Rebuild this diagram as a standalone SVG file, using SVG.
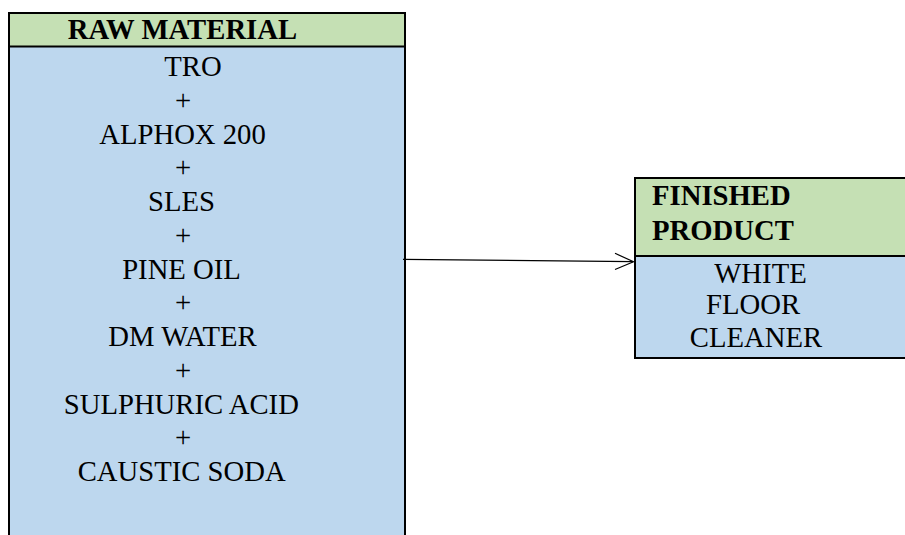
<svg xmlns="http://www.w3.org/2000/svg" width="905" height="535" viewBox="0 0 905 535">
<style>
  .box { stroke: #000; stroke-width: 2; }
  .hdr { fill: #C5E0B4; }
  .body { fill: #BDD7EE; }
  text { font-family: "Liberation Serif", "Times New Roman", serif; font-size: 28.7px; fill: #000; }
  .b { font-weight: bold; }
  .c { text-anchor: middle; }
  .conn { stroke: #000; stroke-width: 1.2; fill: none; }
</style>
<rect width="905" height="535" fill="#fff"/>
<g id="raw-material">
  <rect class="body box" x="9" y="13" width="396" height="540"/>
  <rect class="hdr box" x="9" y="13" width="396" height="33.5"/>
  <text class="b c" x="182.5" y="39">RAW MATERIAL</text>
  <text class="c" x="193" y="76">TRO</text>
  <text class="c" x="183" y="109.75">+</text>
  <text class="c" x="182.5" y="143.5">ALPHOX 200</text>
  <text class="c" x="183" y="177.25">+</text>
  <text class="c" x="181.5" y="211">SLES</text>
  <text class="c" x="183" y="244.75">+</text>
  <text class="c" x="181.5" y="278.5">PINE OIL</text>
  <text class="c" x="183" y="312.25">+</text>
  <text class="c" x="182.5" y="346">DM WATER</text>
  <text class="c" x="183" y="379.75">+</text>
  <text class="c" x="181.3" y="413.5">SULPHURIC ACID</text>
  <text class="c" x="183" y="447.25">+</text>
  <text class="c" x="181.7" y="481">CAUSTIC SODA</text>
</g>
<g id="finished-product">
  <rect class="body box" x="635" y="178" width="275" height="180"/>
  <rect class="hdr box" x="635" y="178" width="275" height="78"/>
  <text class="b" x="652" y="205">FINISHED</text>
  <text class="b" x="652" y="240">PRODUCT</text>
  <text class="c" x="760.5" y="283">WHITE</text>
  <text class="c" x="753" y="314">FLOOR</text>
  <text class="c" x="756" y="346.5">CLEANER</text>
</g>
<g id="connectors">
  <line class="conn" x1="403" y1="259.3" x2="633" y2="261.7"/>
  <polyline class="conn" points="615,253.3 633.5,261.7 615,269.5"/>
</g>
</svg>
